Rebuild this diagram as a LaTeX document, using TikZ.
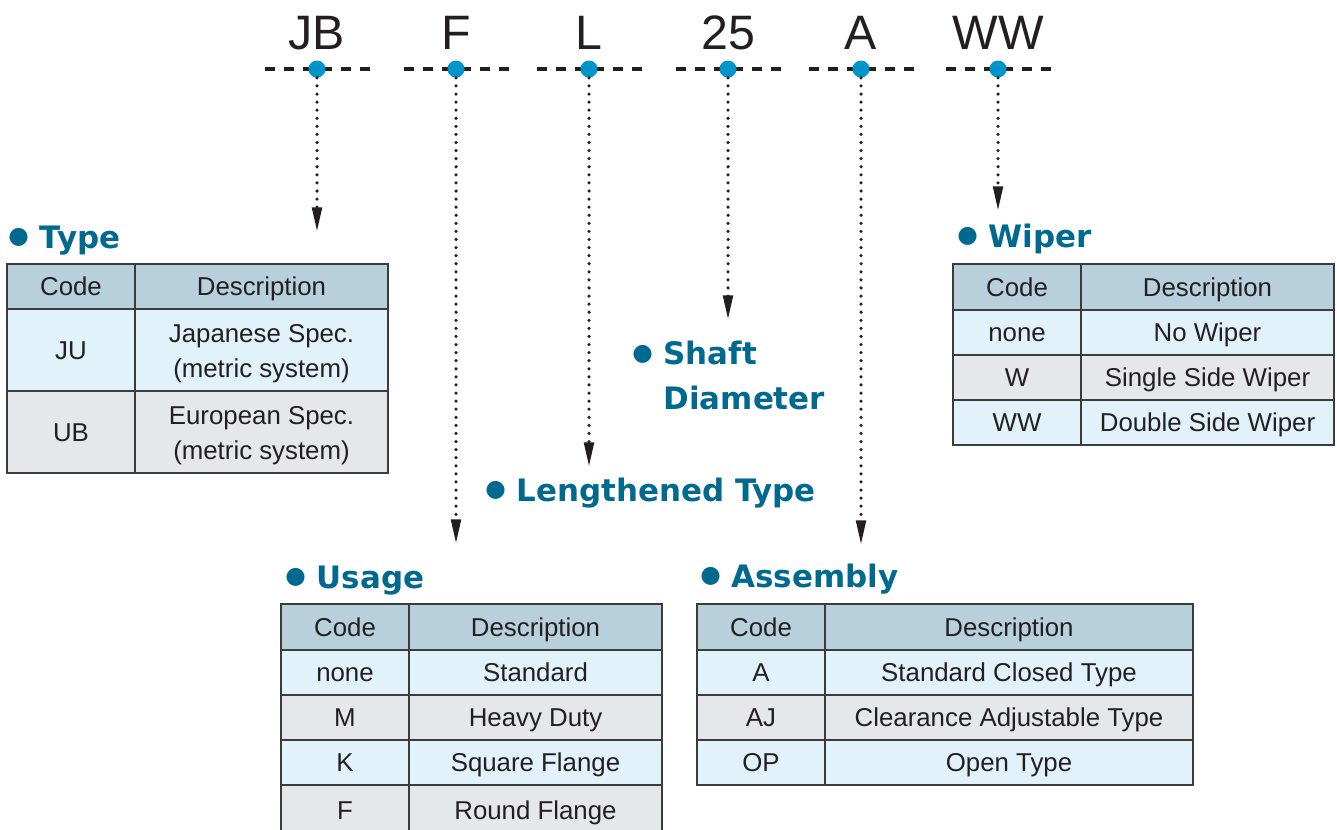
\documentclass[tikz,border=0pt]{standalone}
\usepackage{fontspec}
\setmainfont{Liberation Sans}
\newfontfamily\headfont{DejaVu Sans}
\usetikzlibrary{arrows.meta}
\definecolor{headblue}{HTML}{00698F}
\definecolor{dotblue}{HTML}{0094CC}
\definecolor{hdrfill}{HTML}{B8D0DC}
\definecolor{bluefill}{HTML}{E1F2FB}
\definecolor{grayfill}{HTML}{E6E7E8}
\definecolor{rulegray}{HTML}{3C3C3C}
\definecolor{inkgray}{HTML}{231F20}
\tikzset{
	codeline/.style={line width=2pt,draw=inkgray,dash pattern=on 5.67pt off 5.1pt},
	codedot/.style={circle,fill=dotblue,inner sep=0pt,minimum size=0.34cm},
	codetxt/.style={text=inkgray,font=\fontsize{27.5}{30}\selectfont,inner sep=0pt,anchor=base},
	pointer/.style={line width=2pt,draw=inkgray,line cap=round,dash pattern=on 0pt off 4.6pt,
		-{Triangle[length=14pt,width=5.4pt]}},
	heading/.style={text=headblue,font=\headfont\bfseries\fontsize{17.6}{25.5}\selectfont,
		inner sep=0pt,anchor=base west,align=left},
	celltxt/.style={text=inkgray,font=\fontsize{14.7}{19.8}\selectfont,inner sep=0pt,anchor=base,align=center},
	cellrule/.style={draw=rulegray,line width=0.8pt},
	tableframe/.style={draw=rulegray,line width=1.1pt}
}
\def\hdot{\raisebox{0.13em}{\scalebox{0.76}{\mdseries ●}}}
% x0 x1 x2 ytop ybot fill code description name
\newcommand\specrow[9]{%
	\filldraw[cellrule,fill=#6] (#1,#4) rectangle (#2,#5);
	\filldraw[cellrule,fill=#6] (#2,#4) rectangle (#3,#5);
	\node[celltxt] (#9c) at ({(#1+#2)/2},{(#4+#5)/2+9}) {#7};
	\node[celltxt] (#9d) at ({(#2+#3)/2},{(#4+#5)/2+9}) {#8};}
% same, description on two lines (base = last line)
\newcommand\specrowtwo[9]{%
	\filldraw[cellrule,fill=#6] (#1,#4) rectangle (#2,#5);
	\filldraw[cellrule,fill=#6] (#2,#4) rectangle (#3,#5);
	\node[celltxt] (#9c) at ({(#1+#2)/2},{(#4+#5)/2+9}) {#7};
	\node[celltxt] (#9d) at ({(#2+#3)/2},{(#4+#5)/2+27}) {#8};}

\begin{document}
\begin{tikzpicture}[x=0.02cm,y=-0.02cm]
	\fill[white] (0,0) rectangle (1337,829);
	\useasboundingbox (0,0) rectangle (1337,829);
	% part number
	\foreach \nm/\xx/\lbl in {jb/317/JB,f/456/F,l/589/L,d/728/25,a/861/A,ww/998/WW}{
		\draw[codeline] (\xx-52,69) -- (\xx+53,69);
		\node[codedot] (\nm) at (\xx,69) {};
		\node[codetxt] (\nm txt) at (\xx,49) {\lbl};
	}
	\coordinate (typein) at (317,232);
	\coordinate (usagein) at (456,544);
	\coordinate (lengthin) at (589,467);
	\coordinate (shaftin) at (728,320);
	\coordinate (assemin) at (861,545);
	\coordinate (wiperin) at (998,211);
	\draw[pointer] (jb) -- (typein);
	\draw[pointer] (f) -- (usagein);
	\draw[pointer] (l) -- (lengthin);
	\draw[pointer] (d) -- (shaftin);
	\draw[pointer] (a) -- (assemin);
	\draw[pointer] (ww) -- (wiperin);
	% headings
	\node[heading] (typehd) at (8,248) {\hdot\ Type};
	\node[heading] (wiperhd) at (957,247) {\hdot\ Wiper};
	\node[heading] (shafthd) at (632,409) {\hdot\ Shaft\\\hphantom{\hdot\ }Diameter};
	\node[heading] (lengthhd) at (485,501) {\hdot\ Lengthened Type};
	\node[heading] (usagehd) at (285,588) {\hdot\ Usage};
	\node[heading] (assemhd) at (700,587) {\hdot\ Assembly};
	% Type
	\specrow{7}{135}{388}{264}{309}{hdrfill}{Code}{Description}{type0}
	\specrowtwo{7}{135}{388}{309}{391}{bluefill}{JU}{Japanese Spec.\\(metric system)}{type1}
	\specrowtwo{7}{135}{388}{391}{473}{grayfill}{UB}{European Spec.\\(metric system)}{type2}
	\draw[tableframe] (7,264) rectangle (388,473);
	% Wiper
	\specrow{953}{1081}{1334}{264}{310}{hdrfill}{Code}{Description}{wiper0}
	\specrow{953}{1081}{1334}{310}{355}{bluefill}{none}{No Wiper}{wiper1}
	\specrow{953}{1081}{1334}{355}{400}{grayfill}{W}{Single Side Wiper}{wiper2}
	\specrow{953}{1081}{1334}{400}{445}{bluefill}{WW}{Double Side Wiper}{wiper3}
	\draw[tableframe] (953,264) rectangle (1334,445);
	% Usage
	\specrow{281}{409}{662}{604}{650}{hdrfill}{Code}{Description}{usage0}
	\specrow{281}{409}{662}{650}{695}{bluefill}{none}{Standard}{usage1}
	\specrow{281}{409}{662}{695}{740}{grayfill}{M}{Heavy Duty}{usage2}
	\specrow{281}{409}{662}{740}{785}{bluefill}{K}{Square Flange}{usage3}
	\specrow{281}{409}{662}{785}{835}{grayfill}{F}{Round Flange}{usage4}
	\draw[tableframe] (281,835) -- (281,604) -- (662,604) -- (662,835);
	% Assembly
	\specrow{697}{825}{1193}{604}{650}{hdrfill}{Code}{Description}{assem0}
	\specrow{697}{825}{1193}{650}{695}{bluefill}{A}{Standard Closed Type}{assem1}
	\specrow{697}{825}{1193}{695}{740}{grayfill}{AJ}{Clearance Adjustable Type}{assem2}
	\specrow{697}{825}{1193}{740}{785}{bluefill}{OP}{Open Type}{assem3}
	\draw[tableframe] (697,604) rectangle (1193,785);
\end{tikzpicture}
\end{document}
